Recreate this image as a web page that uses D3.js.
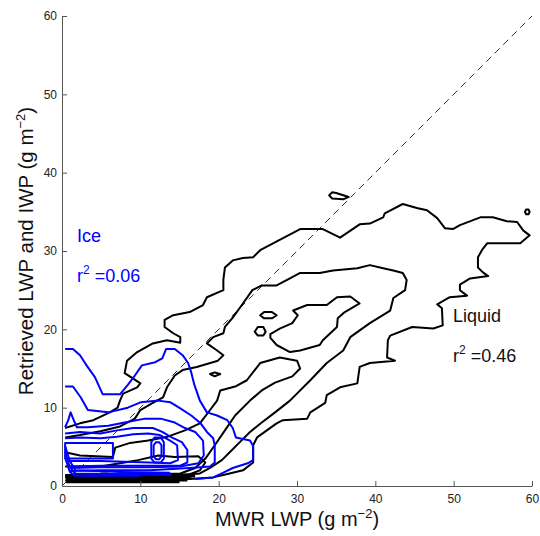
<!DOCTYPE html>
<html>
<head>
<meta charset="utf-8">
<script src="https://cdn.jsdelivr.net/npm/d3@7"></script>
<style>
  body { margin: 0; background: #fff; }
  text { font-family: Arial, "Liberation Sans", Helvetica, sans-serif; }
</style>
</head>
<body>
<div id="chart"></div>
<script>
/** Data (g m-2) */

var xTicks = [0, 10, 20, 30, 40, 50, 60];
var yTicks = [0, 10, 20, 30, 40, 50, 60];
var oneToOne = [[0, 0], [60, 60]];

// liquid (black) contours
var liquidOuter = [[0.4,7.4],[2.3,8.0],[4.0,8.4],[6.1,9.4],[7.1,10.0],[7.4,10.9],[7.8,11.8],[9.6,12.6],[10.0,13.1],[9.1,13.7],[8.0,14.4],[8.3,16.0],[9.6,17.1],[11.6,18.2],[13.4,18.6],[15.1,18.3],[15.1,19.0],[14.2,19.5],[13.1,20.3],[13.1,21.2],[14.2,21.8],[16.3,22.2],[18.0,23.1],[18.5,24.1],[20.6,25.0],[20.6,26.3],[20.8,27.9],[21.8,28.8],[23.1,29.1],[24.4,29.2],[25.3,30.1],[30.4,32.8],[33.3,32.8],[35.5,31.7],[38.0,33.4],[39.3,33.5],[41.0,34.3],[41.2,34.8],[43.5,36.0],[45.3,35.5],[46.6,35.2],[47.9,34.2],[48.9,32.9],[49.9,32.8],[50.8,33.3],[53.4,34.3],[55.0,34.3],[56.8,33.8],[58.1,33.7],[58.9,32.6],[59.7,32.0],[58.5,31.0],[54.3,31.0],[53.6,30.1],[53.1,29.2],[53.1,27.9],[53.7,27.3],[54.4,26.8],[52.1,26.5],[50.8,25.7],[50.8,25.0],[51.7,24.3],[49.5,24.1],[47.9,23.2],[48.5,22.7],[48.6,20.5],[47.4,20.1],[44.7,20.3],[41.9,19.2],[41.6,18.6],[41.5,16.4],[42.5,16.0],[39.3,15.7],[38.0,15.2],[37.7,13.1],[35.5,12.6],[33.8,11.6],[33.6,10.6],[31.7,9.4],[31.3,8.6],[28.2,8.4],[27.4,8.0],[24.9,6.2],[24.4,5.2],[24.4,3.0],[23.1,2.0],[21.4,1.6],[19.3,1.1],[16.3,0.9],[11.2,0.7],[4.9,0.7],[0.4,0.7]];
var liquid2 = [[0.4,6.2],[2.3,6.5],[4.9,7.0],[7.4,7.6],[9.3,8.6],[10.0,9.7],[11.6,10.6],[12.9,11.3],[13.4,12.6],[14.4,14.1],[15.4,14.8],[17.2,15.2],[19.9,16.0],[20.6,16.7],[19.8,17.3],[18.5,18.2],[19.3,19.0],[20.6,19.5],[20.8,20.3],[21.8,21.5],[23.1,23.3],[24.3,25.0],[25.5,25.6],[27.4,25.6],[29.1,26.5],[30.4,27.2],[32.9,27.2],[34.6,27.5],[37.7,27.8],[39.3,28.2],[41.0,27.8],[42.3,27.5],[43.5,27.2],[44.0,26.3],[43.8,25.0],[42.3,24.0],[41.9,22.4],[39.3,20.8],[36.8,19.0],[35.9,17.3],[33.8,15.7],[31.7,13.5],[29.1,10.9],[27.2,9.4],[25.5,8.1],[24.0,6.9],[22.7,5.6],[21.7,4.6],[20.4,3.3],[18.9,2.3],[17.6,1.6],[11.2,1.1],[0.4,1.1]];
var liquid3 = [[26.6,19.4],[27.8,20.1],[29.4,20.8],[30.1,21.8],[29.5,22.4],[31.3,23.1],[33.8,23.1],[35.1,24.1],[36.8,24.2],[38.0,23.3],[36.1,22.2],[35.2,21.4],[35.1,20.3],[33.3,18.6],[32.9,18.0],[30.4,17.3],[29.1,17.1],[27.4,18.0],[26.6,18.9]];
var liquid4 = [[0.4,4.3],[2.3,3.9],[6.5,3.7],[6.8,4.9],[8.7,5.5],[11.0,5.8],[13.5,6.3],[15.7,7.1],[17.6,8.0],[18.9,9.7],[19.8,10.9],[20.2,12.2],[22.1,12.7],[23.6,13.5],[25.3,15.7],[27.8,16.4],[30.0,16.0],[30.4,15.0],[29.4,14.0],[27.2,13.2],[25.5,12.2],[24.0,10.9],[22.1,9.0],[20.8,7.1],[19.5,5.2],[18.3,3.5],[17.0,2.3],[15.1,1.6],[0.4,1.4]];
var liquid5 = [[0.4,2.5],[4.9,2.5],[9.7,3.3],[12.3,3.9],[14.4,3.7],[17.4,3.8],[18.3,3.0],[17.6,2.0],[16.3,1.5],[0.4,1.2]];
var liquidBand1 = [[0.5,1.25],[17.0,1.25]];
var liquidBand2 = [[0.5,1.0],[16.5,1.0]];
var liquidBand3 = [[0.5,0.75],[16.0,0.75]];
var liquidBand4 = [[0.5,0.5],[15.0,0.5]];
var liquidLoopA = [[25.3,21.8],[25.8,22.2],[26.8,22.2],[27.4,21.8],[26.8,21.4],[25.8,21.4]];
var liquidLoopB = [[24.6,19.7],[25.0,20.3],[25.7,20.3],[26.0,19.7],[25.7,19.2],[25.0,19.2]];
var liquidLoopC = [[18.9,14.3],[19.5,14.5],[20.2,14.3],[19.5,14.0]];
var liquidLoopD = [[34.1,37.1],[34.5,37.5],[35.0,37.4],[36.6,36.9],[35.9,36.6],[34.5,36.7]];
var liquidLoopE = [[59.1,35.0],[59.25,35.3],[59.55,35.3],[59.7,35.0],[59.55,34.7],[59.25,34.7]];
var liquidLoopF = [[5.0,1.6],[5.9,1.6],[5.9,1.1],[5.0,1.1]];

// ice (blue) contours
var iceOuter = [[0.4,17.5],[1.4,17.5],[2.3,16.7],[3.2,15.3],[4.2,13.9],[5.2,11.7],[7.4,11.7],[8.4,12.9],[9.3,14.1],[10.2,15.4],[11.9,15.8],[12.8,16.3],[13.3,17.5],[14.4,17.5],[15.4,16.7],[16.1,15.7],[16.5,14.5],[16.9,12.9],[17.6,10.9],[18.5,9.4],[19.8,9.0],[21.1,8.4],[21.8,7.4],[22.2,6.2],[24.0,5.8],[24.4,5.1],[24.4,3.3],[23.7,2.9],[21.8,2.3],[20.6,1.7],[19.3,1.1],[17.0,0.9]];
var ice2 = [[0.4,12.7],[1.4,12.7],[2.4,11.3],[3.3,9.7],[5.9,9.4],[8.4,10.0],[10.1,10.7],[12.3,10.9],[13.8,10.7],[15.1,9.9],[16.5,9.0],[17.7,8.0],[18.5,6.9],[19.3,6.1],[19.5,5.2],[19.5,3.0],[18.9,2.5],[16.3,2.3],[11.2,2.0],[4.9,2.0],[1.0,1.9]];
var ice3 = [[0.4,7.5],[0.8,8.4],[1.1,9.4],[1.5,8.4],[1.9,7.5],[3.3,7.5],[5.9,7.7],[8.0,8.1],[10.6,8.6],[12.6,8.6],[14.4,8.1],[15.7,7.4],[17.0,6.9],[18.0,5.8],[18.1,3.9],[17.4,2.9],[15.1,2.5],[11.2,2.4],[4.9,2.4],[1.0,2.3]];
var ice4 = [[0.4,6.7],[2.3,6.9],[4.9,6.7],[7.0,7.1],[9.1,7.4],[11.6,7.4],[12.8,6.9],[14.0,6.2],[15.3,5.6],[16.0,4.6],[16.0,3.0],[15.1,2.6],[11.2,2.6],[4.9,2.6],[1.0,2.5]];
var ice5 = [[0.4,6.1],[2.3,6.2],[4.9,6.1],[7.0,6.3],[9.1,6.6],[11.0,6.7],[12.5,6.5],[13.8,5.8],[14.7,5.2],[14.8,3.3],[13.8,2.9],[11.2,3.0],[4.9,3.2],[1.0,3.2]];
var iceBox = [[0.4,5.5],[6.5,5.5],[6.5,3.5],[0.4,3.5]];
var iceHexOuter = [[11.4,5.6],[11.8,6.2],[12.6,6.2],[13.0,5.6],[13.0,3.5],[12.6,3.0],[11.8,3.0],[11.4,3.5]];
var iceHexInner = [[11.7,5.2],[12.0,5.6],[12.4,5.6],[12.7,5.2],[12.7,3.8],[12.4,3.4],[12.0,3.4],[11.7,3.8]];
var iceFan1 = [[0.4,5.1],[1.0,3.2],[1.7,2.0],[7.4,1.8],[13.8,1.7]];
var iceFan2 = [[0.4,4.4],[1.0,2.4],[1.7,1.6],[8.0,1.5],[14.0,1.4]];
var iceFan3 = [[0.4,3.6],[1.0,1.8],[1.7,1.3],[10.0,1.3]];

var liquidOpen = [liquidOuter, liquid2, liquid4, liquid5];
var liquidBands = [liquidBand1, liquidBand2, liquidBand3, liquidBand4];
var liquidClosed = [liquid3, liquidLoopA, liquidLoopB, liquidLoopC, liquidLoopD, liquidLoopE, liquidLoopF];
var iceOpen = [iceOuter, ice2, ice3, ice4, ice5, iceFan1, iceFan2, iceFan3];
var iceClosed = [iceBox, iceHexOuter, iceHexInner];

/** Layout */

var margin = {top: 16, right: 8, bottom: 50, left: 62};
var width = 470;
var height = 470;

var svg = d3.select("#chart")
  .append("svg")
    .attr("width", 540)
    .attr("height", 536)
  .append("g")
    .attr("transform", "translate(" + margin.left + "," + margin.top + ")");

var x = d3.scaleLinear().domain([0, 60]).range([0, width]);
var y = d3.scaleLinear().domain([0, 60]).range([height, 0]);

var line = d3.line()
  .x(function(d) { return x(d[0]); })
  .y(function(d) { return y(d[1]); });

// 1:1 line
svg.append("path")
  .datum(oneToOne)
  .attr("fill", "none")
  .attr("stroke", "#000")
  .attr("stroke-width", 0.8)
  .attr("stroke-dasharray", "7,5")
  .attr("d", line);

function drawContours(list, closed, color, sw) {
  svg.append("g")
    .selectAll("path")
    .data(list)
    .enter()
    .append("path")
      .attr("fill", "none")
      .attr("stroke", color)
      .attr("stroke-width", sw)
      .attr("stroke-linejoin", "round")
      .attr("d", function(d) { return line(d) + (closed ? "Z" : ""); });
}

drawContours(liquidOpen, false, "#000", 2);
drawContours(liquidBands, false, "#000", 2.5);
drawContours(liquidClosed, true, "#000", 2);
drawContours(iceOpen, false, "#0000ff", 2);
drawContours(iceClosed, true, "#0000ff", 2);

// AXES //

var xAxis = svg.append("g")
  .attr("transform", "translate(0," + height + ")")
  .call(d3.axisBottom(x).tickValues(xTicks).tickSizeInner(-5).tickSizeOuter(0).tickPadding(8.5));

var yAxis = svg.append("g")
  .call(d3.axisLeft(y).tickValues(yTicks).tickSizeInner(-5).tickSizeOuter(0).tickPadding(5));

[xAxis, yAxis].forEach(function(a) {
  a.select(".domain").attr("stroke", "#555");
  a.selectAll(".tick line").attr("stroke", "#555");
  a.selectAll(".tick text")
    .attr("fill", "#222")
    .style("font-family", "Arial, 'Liberation Sans', sans-serif")
    .style("font-size", "12px");
});

// axis labels
var xl = svg.append("text")
  .attr("text-anchor", "middle")
  .attr("x", width / 2)
  .attr("y", 510)
  .style("font-size", "20px")
  .attr("fill", "#111");
xl.append("tspan").text("MWR LWP (g m");
xl.append("tspan").attr("dy", -8).style("font-size", "13px").text("\u22122");
xl.append("tspan").attr("dy", 8).text(")");

var yl = svg.append("text")
  .attr("text-anchor", "middle")
  .attr("transform", "translate(" + (33 - margin.left) + "," + (height / 2) + ") rotate(-90)")
  .style("font-size", "20.5px")
  .attr("fill", "#111");
yl.append("tspan").text("Retrieved LWP and IWP (g m");
yl.append("tspan").attr("dy", -8).style("font-size", "13px").text("\u22122");
yl.append("tspan").attr("dy", 8).text(")");

// annotations
function annotate(px, py, txt, color) {
  svg.append("text")
    .attr("x", px - margin.left)
    .attr("y", py - margin.top)
    .style("font-size", "18px")
    .attr("fill", color)
    .text(txt);
}

function annotateR2(px, py, val, color) {
  var t = svg.append("text")
    .attr("x", px - margin.left)
    .attr("y", py - margin.top)
    .style("font-size", "18px")
    .attr("fill", color);
  t.append("tspan").text("r");
  t.append("tspan").attr("dy", -8).style("font-size", "12px").text("2");
  t.append("tspan").attr("dy", 8).text(" =" + val);
}

annotate(77, 242, "Ice", "#0000ff");
annotateR2(77, 282, "0.06", "#0000ff");
annotate(453, 322, "Liquid", "#111");
annotateR2(453, 362, "0.46", "#111");
</script>
</body>
</html>
